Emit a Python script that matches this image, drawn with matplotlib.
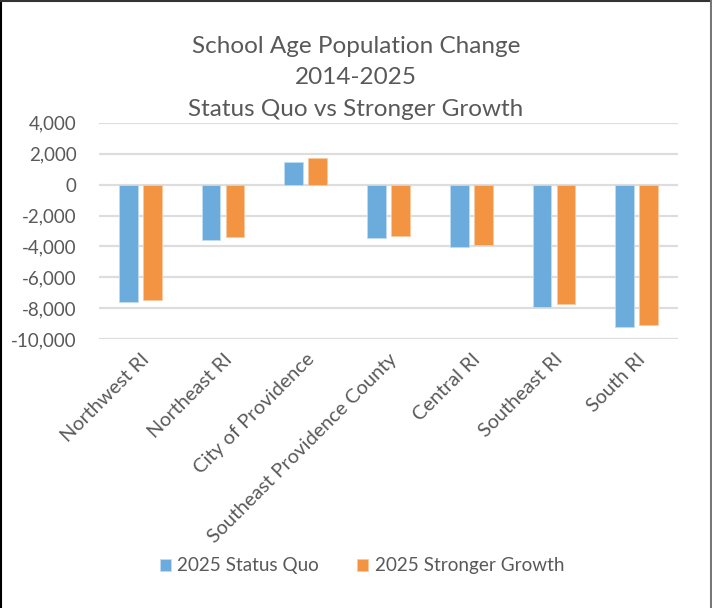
import matplotlib
matplotlib.use('Agg')
from matplotlib import pyplot as plt, rcParams
from matplotlib.lines import Line2D
from matplotlib.ticker import FuncFormatter
import numpy as np

rcParams['font.family'] = ['Lato', 'DejaVu Sans']

# 数据
regions = ['Northwest RI', 'Northeast RI', 'City of Providence',
           'Southeast Providence County', 'Central RI', 'Southeast RI', 'South RI']
status_quo = [-7570, -3600, 1450, -3430, -4030, -7900, -9190]
stronger_growth = [-7460, -3390, 1730, -3340, -3880, -7700, -9060]

text_color = '#595959'
blue = '#6CACDD'
orange = '#F39442'

fig = plt.figure(figsize=(7.12, 6.08), dpi=100)
ax = fig.add_axes([99/712, 1-339.3/608, 579/712, 216.6/608])

x = np.arange(len(regions))
ax.bar(x - 0.145, status_quo, width=0.225, color=blue, edgecolor='#BFDCF1',
       linewidth=0.6, label='2025 Status Quo', zorder=3)
ax.bar(x + 0.145, stronger_growth, width=0.225, color=orange, edgecolor='#F9C9A0',
       linewidth=0.6, label='2025 Stronger Growth', zorder=3)

ax.set_xlim(-0.5, len(regions) - 0.5)
ax.set_ylim(-10000, 4000)
ax.set_yticks(range(-10000, 4001, 2000))
ax.yaxis.set_major_formatter(FuncFormatter(lambda v, p: f'{int(v):,}'))
ax.grid(axis='y', color='#DDDDDD', linewidth=1.6, zorder=0)
for s in ax.spines.values():
    s.set_visible(False)
ax.tick_params(axis='both', length=0, colors=text_color)
ax.tick_params(axis='y', pad=16, labelsize=13.5)
ax.set_xticks(x)
ax.set_xticklabels(regions, rotation=45, ha='right', va='top',
                   rotation_mode='anchor', fontsize=14.3)
ax.tick_params(axis='x', pad=8)

fig.text(0.5, 1-78/608, 'School Age Population Change\n2014-2025\nStatus Quo vs Stronger Growth',
         ha='center', va='center', fontsize=17.5, color=text_color, linespacing=1.6)

fig.legend(loc='center', bbox_to_anchor=(362/712, 1-566/608), ncol=2, frameon=False,
           fontsize=13.6, labelcolor=text_color, handlelength=0.6, handleheight=0.6,
           handletextpad=0.35, columnspacing=2.0)

# 外框
fig.add_artist(Line2D([0.001, 0.001], [0, 1], transform=fig.transFigure, color='black', linewidth=1.5))
fig.add_artist(Line2D([0, 1], [0.999, 0.999], transform=fig.transFigure, color='#333333', linewidth=1.5))
fig.add_artist(Line2D([0.998, 0.998], [0, 1], transform=fig.transFigure, color='#777777', linewidth=1.5))

fig.savefig('out.png', dpi=100)
